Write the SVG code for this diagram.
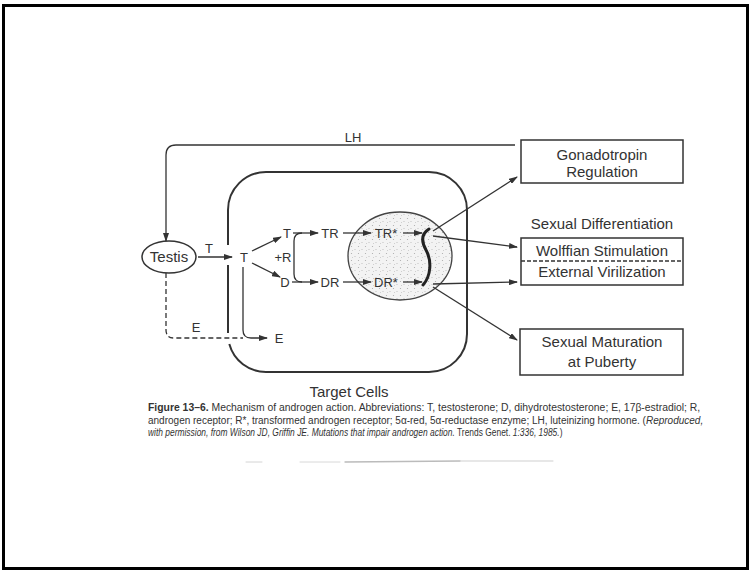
<svg xmlns="http://www.w3.org/2000/svg" width="750" height="571" viewBox="0 0 750 571">
<style>
text{font-family:"Liberation Sans",Arial,sans-serif;fill:#333}
.lbl{font-size:13px;text-anchor:middle}
.big{font-size:15px;text-anchor:middle}
.cap{font-size:10px}
.ln{fill:none;stroke:#333;stroke-width:1.3}
.box{fill:none;stroke:#333;stroke-width:1.5}
</style>
<defs>
<marker id="ah" markerUnits="userSpaceOnUse" markerWidth="9" markerHeight="6" refX="8" refY="3" orient="auto">
<path d="M0,0 L9,3 L0,6 z" fill="#333"/>
</marker>
<pattern id="stip" width="7" height="7" patternUnits="userSpaceOnUse">
<rect width="7" height="7" fill="#f3f3f3"/>
<circle cx="1.5" cy="1.5" r="0.6" fill="#aaa"/>
<circle cx="5" cy="4.5" r="0.6" fill="#bbb"/>
<circle cx="2.5" cy="5.5" r="0.5" fill="#c4c4c4"/>
</pattern>
</defs>
<rect x="3.5" y="5.5" width="744" height="563" fill="#fff" stroke="#000" stroke-width="3"/>

<g id="cell">
<path class="ln" style="stroke-width:2" d="M229.3 344 A38 38 0 0 0 266 372 L429 372 A38 38 0 0 0 467 334 L467 210 A38 38 0 0 0 429 172 L266 172 A38 38 0 0 0 228 210 L228 245 M228 265 L228 333"/>
<text class="big" x="349" y="397">Target Cells</text>
</g>

<g id="nucleus">
<ellipse cx="400" cy="256" rx="52" ry="44" fill="url(#stip)" stroke="#444" stroke-width="1.3"/>
<path d="M429 229 C421 234 421 241 426 250 C432 261 431 276 423 285" fill="none" stroke="#222" stroke-width="3" stroke-linecap="round"/>
</g>

<g id="testis">
<ellipse cx="169" cy="257" rx="27" ry="16" fill="#fff" stroke="#333" stroke-width="1.5"/>
<text class="big" x="169" y="262">Testis</text>
</g>

<g id="gonadotropin">
<rect class="box" x="521" y="140" width="162" height="43"/>
<text class="big" x="602" y="160">Gonadotropin</text>
<text class="big" x="602" y="177">Regulation</text>
</g>

<g id="sexdiff">
<text class="big" x="602" y="229">Sexual Differentiation</text>
<rect class="box" x="521" y="238" width="162" height="47"/>
<line x1="521" y1="261" x2="683" y2="261" stroke="#333" stroke-width="1.3" stroke-dasharray="4,2"/>
<text class="big" x="602" y="256">Wolffian Stimulation</text>
<text class="big" x="602" y="277">External Virilization</text>
</g>

<g id="maturation">
<rect class="box" x="520" y="329" width="163" height="46"/>
<text class="big" x="602" y="347">Sexual Maturation</text>
<text class="big" x="602" y="367">at Puberty</text>
</g>

<g id="labels">
<text class="lbl" x="353" y="142">LH</text>
<text class="lbl" x="209" y="253">T</text>
<text class="lbl" x="244" y="262">T</text>
<text class="lbl" x="287" y="238">T</text>
<text class="lbl" x="283" y="262">+R</text>
<text class="lbl" x="285" y="287">D</text>
<text class="lbl" x="330" y="238">TR</text>
<text class="lbl" x="330" y="287">DR</text>
<text class="lbl" x="386" y="238">TR*</text>
<text class="lbl" x="386" y="287">DR*</text>
<text class="lbl" x="196" y="332">E</text>
<text class="lbl" x="279" y="343">E</text>
</g>

<g id="connectors">
<path class="ln" marker-end="url(#ah)" d="M515 145 L176 145 Q166 145 166 155 L166 241"/>
<path class="ln" marker-end="url(#ah)" d="M198 257 L232 257"/>
<path class="ln" marker-end="url(#ah)" d="M252 251 L281 237"/>
<path class="ln" marker-end="url(#ah)" d="M252 263 L280 277"/>
<path class="ln" marker-end="url(#ah)" d="M293 233 L318 233"/>
<path class="ln" d="M302 233 Q294 233 294 241 L294 274 Q294 282 302 282"/>
<path class="ln" marker-end="url(#ah)" d="M292 282 L318 282"/>
<path class="ln" marker-end="url(#ah)" d="M343 233 L371 233"/>
<path class="ln" marker-end="url(#ah)" d="M343 282 L371 282"/>
<path class="ln" marker-end="url(#ah)" d="M403 233 L422 233"/>
<path class="ln" marker-end="url(#ah)" d="M403 282 L422 282"/>
<path class="ln" marker-end="url(#ah)" d="M433 231 L517 177"/>
<path class="ln" marker-end="url(#ah)" d="M433 236 L517 247"/>
<path class="ln" marker-end="url(#ah)" d="M433 284 L517 282"/>
<path class="ln" marker-end="url(#ah)" d="M433 287 L517 340"/>
<path class="ln" marker-end="url(#ah)" d="M243 267 L243 330 Q243 338 251 338 L267 338"/>
<path class="ln" stroke-dasharray="5,3" d="M166 273 L166 330 Q166 338 174 338 L243 338"/>
</g>

<g id="caption">
<text class="cap" transform="translate(148,411) scale(1.039,1)" x="0" y="0"><tspan font-weight="bold">Figure 13–6.</tspan> Mechanism of androgen action. Abbreviations: T, testosterone; D, dihydrotestosterone; E, 17β-estradiol; R,</text>
<text class="cap" x="148" y="424">androgen receptor; R*, transformed androgen receptor; 5α-red, 5α-reductase enzyme; LH, luteinizing hormone. (<tspan font-style="italic">Reproduced,</tspan></text>
<text class="cap" transform="translate(148,436) scale(0.843,1)" x="0" y="0"><tspan font-style="italic">with permission, from Wilson JD, Griffin JE. Mutations that impair androgen action.</tspan> Trends Genet. <tspan font-style="italic">1:336, 1985.</tspan>)</text>
</g>
<g id="smudge" stroke-linecap="round">
<line x1="246" y1="462" x2="262" y2="462" stroke="#d4d4d4" stroke-width="1"/>
<line x1="300" y1="462" x2="340" y2="462" stroke="#d8d8d8" stroke-width="1"/>
<line x1="345" y1="462" x2="460" y2="461" stroke="#bbb" stroke-width="1.3"/>
<line x1="460" y1="461" x2="553" y2="461" stroke="#cfcfcf" stroke-width="1"/>
</g>
</svg>
